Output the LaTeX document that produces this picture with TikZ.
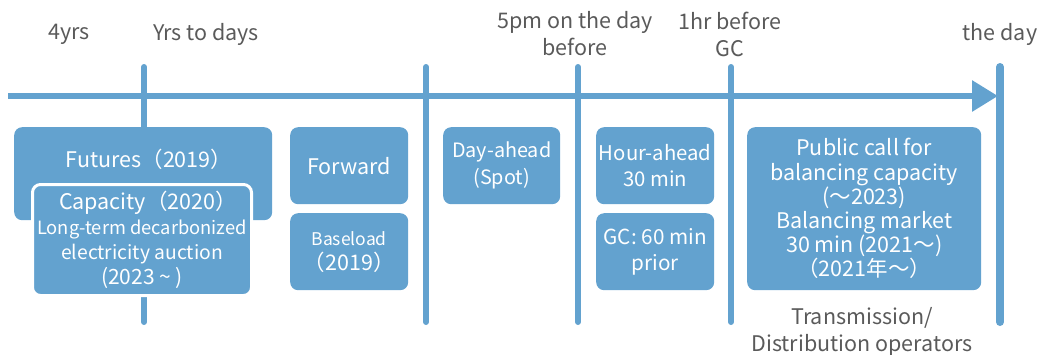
\documentclass[tikz,border=0pt]{standalone}
\usepackage{fontspec}
\setmainfont{Noto Sans CJK JP}
\usetikzlibrary{arrows.meta,positioning}
\definecolor{steel}{HTML}{63A2CF}
\definecolor{slate}{HTML}{5A5A5A}
\colorlet{box}{steel}
\colorlet{txt}{slate}

\begin{document}
\begin{tikzpicture}[x=1pt,y=-1pt,font=\fontsize{21.5}{27}\selectfont,
    mkt/.style={fill=box,draw=none,rounded corners=8pt,text=white,align=center,
                inner sep=0pt,anchor=north west},
    tickline/.style={box,line width=6pt,line cap=round},
    when/.style={text=txt,align=center}]
  \useasboundingbox (0,0) rectangle (1041,354);
  % time marks
  \foreach \x in {144,426,578,731}{
    \draw[tickline] (\x,67) -- (\x,322);}
  \draw[tickline,line width=8pt] (1000,67) -- (1000,322);
  \coordinate (t0) at (8,96);
  \coordinate (t1) at (998,96);
  \draw[box,line width=6pt,-{Triangle[length=26pt,width=30pt]}] (t0) -- (t1);
  % when
  \node[when] (yrs4) at (69,34) {4yrs};
  \node[when] (yrsdays) at (206,34) {Yrs to days};
  \node[when] (pm5) at (575,34) {5pm on the day\\before};
  \node[when] (hr1) at (730,34) {1hr before\\GC};
  \node[when] (theday) at (1000,34) {the day};
  % markets
  \node[mkt,minimum width=258,minimum height=93] (futures) at (14,127) {};
  \node[text=white] (futurestxt) at (149,159) {Futures（2019）};
  \node[mkt,draw=white,line width=3pt,minimum width=219,minimum height=111,
        font=\fontsize{18.3}{25}\selectfont] (capacity) at (31,183)
       {\kern12pt{\fontsize{21.5}{25}\selectfont Capacity（2020）}\\Long-term decarbonized\\{\fontsize{19.3}{25}\selectfont electricity auction}\\{\fontsize{21}{25}\selectfont(2023 \textasciitilde\ )}};
  \node[mkt,minimum width=118,minimum height=77] (forward) at (290,127) {Forward};
  \node[mkt,minimum width=118,minimum height=77,font=\fontsize{17.5}{25}\selectfont]
       (baseload) at (290,213) {Baseload\\{\fontsize{21.5}{25}\selectfont（2019）}};
  \node[mkt,minimum width=117,minimum height=77,font=\fontsize{19.8}{27}\selectfont]
       (dayahead) at (443,127) {Day-ahead\\(Spot)};
  \node[mkt,minimum width=118,minimum height=77,font=\fontsize{20.3}{26}\selectfont]
       (hourahead) at (596,127) {Hour-ahead\\30 min};
  \node[mkt,minimum width=118,minimum height=77,font=\fontsize{20.7}{26}\selectfont]
       (gc) at (596,213) {GC: 60 min\\prior};
  \node[mkt,minimum width=234,minimum height=163,font=\fontsize{21.5}{24.2}\selectfont]
       (balancing) at (747,127)
       {Public call for\\balancing capacity\\(～2023)\\Balancing market\\30 min (2021～)\\（2021年～）};
  \node[when] (tdo) at (862,332)
       {Transmission/\\Distribution operators};
\end{tikzpicture}
\end{document}
